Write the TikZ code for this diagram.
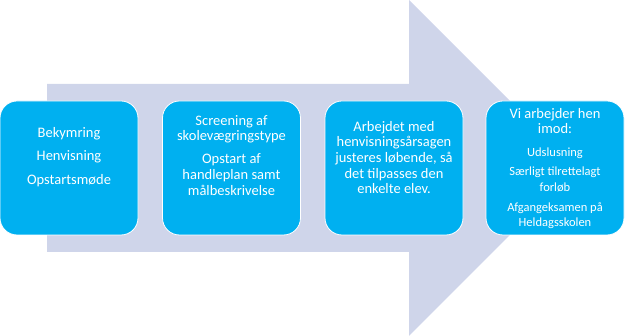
\documentclass[tikz,border=0pt]{standalone}
\usepackage{fontspec}
\setmainfont{Carlito}
\usetikzlibrary{calc}

\definecolor{boxcyan}{RGB}{0,176,240}
\definecolor{arrowlav}{RGB}{207,213,234}

\begin{document}
\begin{tikzpicture}[x=1pt, y=-1pt,
    stepbox/.style={fill=boxcyan, draw=white, line width=0.8pt, rounded corners=17pt,
        minimum width=138pt, minimum height=134pt, inner sep=0pt},
    steptext/.style={text=white, align=center, inner sep=0pt, anchor=north,
        font=\fontsize{14.5}{15.6}\selectfont}]

    \useasboundingbox (0,0) rectangle (625,336);

    % background arrow
    \coordinate (A1) at (47, 84);
    \coordinate (A2) at (409, 84);
    \coordinate (A3) at (409, 0);
    \coordinate (tip) at (577, 168);
    \coordinate (A5) at (409, 336);
    \coordinate (A6) at (409, 252);
    \coordinate (A7) at (47, 252);
    \fill[arrowlav] (A1) -- (A2) -- (A3) -- (tip) -- (A5) -- (A6) -- (A7) -- cycle;

    % the four steps
    \node[stepbox] (bekymring) at (69, 168) {};
    \node[stepbox] (screening) at (231.5, 168) {};
    \node[stepbox] (arbejdet) at (394, 168) {};
    \node[stepbox] (udslusning) at (555, 168) {};

    \node[steptext, font=\fontsize{14.5}{23.5}\selectfont] (t1) at (69, 127)
        {Bekymring\\Henvisning\\Opstartsmøde};
    \node[steptext] (t2) at (231.5, 115)
        {Screening af\\skolevægringstype\\[7.5pt]Opstart af\\handleplan samt\\målbeskrivelse};
    \node[steptext] (t3) at (394, 121)
        {Arbejdet med\\henvisningsårsagen\\justeres løbende, så\\det tilpasses den\\enkelte elev.};
    \node[steptext, font=\fontsize{12.5}{15.5}\selectfont] (t4) at (555, 108)
        {{\fontsize{14.5}{15}\selectfont Vi arbejder hen}\\{\fontsize{14.5}{15}\selectfont imod:}\\[7.5pt]
         Udslusning\\[3.5pt]Særligt tilrettelagt\\forløb\\[4.5pt]Afgangeksamen på\\Heldagsskolen};

\end{tikzpicture}
\end{document}
